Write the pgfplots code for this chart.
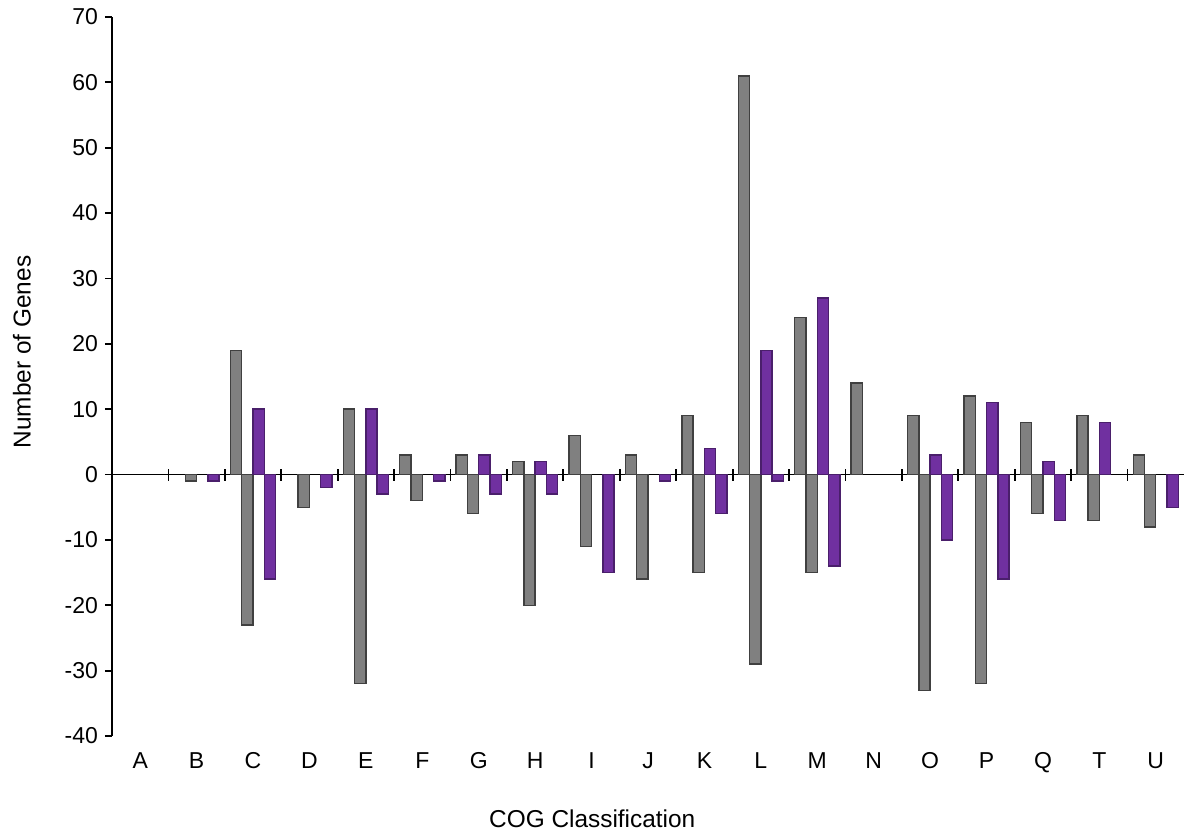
\documentclass[border=0pt]{standalone}
\usepackage{pgfplots}
\pgfplotsset{compat=1.18}
\usepackage{fontspec}
\setmainfont{Liberation Sans}
\definecolor{barGray}{HTML}{808080}
\definecolor{barGrayEdge}{HTML}{404040}
\definecolor{barPurple}{HTML}{7030A0}
\definecolor{barPurpleEdge}{HTML}{4A1F6B}
\begin{document}
\begin{tikzpicture}
\begin{axis}[
  name=main,
  scale only axis,
  width=536pt, height=359.5pt,
  xmin=-0.5, xmax=18.5,
  ymin=-40, ymax=70,
  axis y line*=left,
  axis x line*=middle,
  axis line style={-, black, line width=0.9pt},
  hide obscured x ticks=false,
  hide obscured y ticks=false,
  xtick=\empty,
  extra x ticks={0.5,1.5,...,17.5},
  extra x tick labels={},
  extra x tick style={xtick align=center, major tick length=6pt},
  major tick length=3.5pt,
  ytick={-40,-30,...,70},
  yticklabels={-40,-30,-20,-10,0,10,20,30,40,50,60,70},
  ytick align=outside,
  ytick pos=left,
  tick style={black, line width=0.9pt},
  tick label style={font=\fontsize{11.5}{13}\selectfont},
  ylabel={Number of Genes},
  ylabel style={font=\fontsize{12.2}{14}\selectfont, at={(axis description cs:-0.084,0.534)}, anchor=center, rotate=0},
  ybar, bar width=0.2,
  clip=false,
]
% gray positive
\addplot[fill=barGray, draw=barGrayEdge, line width=0.7pt, bar shift=-0.3] coordinates {
 (2,19) (4,10) (5,3) (6,3) (7,2) (8,6) (9,3) (10,9) (11,61) (12,24) (13,14) (14,9) (15,12) (16,8) (17,9) (18,3)};
% gray negative
\addplot[fill=barGray, draw=barGrayEdge, line width=0.7pt, bar shift=-0.1] coordinates {
 (1,-1) (2,-23) (3,-5) (4,-32) (5,-4) (6,-6) (7,-20) (8,-11) (9,-16) (10,-15) (11,-29) (12,-15) (14,-33) (15,-32) (16,-6) (17,-7) (18,-8)};
% purple positive
\addplot[fill=barPurple, draw=barPurpleEdge, line width=0.7pt, bar shift=0.1] coordinates {
 (2,10) (4,10) (6,3) (7,2) (10,4) (11,19) (12,27) (14,3) (15,11) (16,2) (17,8)};
% purple negative
\addplot[fill=barPurple, draw=barPurpleEdge, line width=0.7pt, bar shift=0.3] coordinates {
 (1,-1) (2,-16) (3,-2) (4,-3) (5,-1) (6,-3) (7,-3) (8,-15) (9,-1) (10,-6) (11,-1) (12,-14) (14,-10) (15,-16) (16,-7) (18,-5)};
\end{axis}
\begin{axis}[
  scale only axis,
  width=536pt, height=359.5pt,
  xmin=-0.5, xmax=18.5,
  ymin=-40, ymax=70,
  axis x line*=bottom,
  axis y line=none,
  axis line style={draw=none},
  xtick={0,...,18},
  xticklabels={A,B,C,D,E,F,G,H,I,J,K,L,M,N,O,P,Q,T,U},
  major tick length=0pt,
  tick style={draw=none},
  xticklabel style={font=\fontsize{11.5}{13}\selectfont, anchor=base, yshift=-16.5pt},
  xlabel={COG Classification},
  xlabel style={font=\fontsize{12.2}{14}\selectfont, at={(axis description cs:0.448,0)}, anchor=base, yshift=-46pt},
  ytick=\empty,
]
\addplot[draw=none] coordinates {(0,0)};
\end{axis}
\pgfresetboundingbox
\path[use as bounding box] ([xshift=-56pt,yshift=-48pt]main.south west) rectangle ([yshift=8.5pt]main.north east);
\end{tikzpicture}
\end{document}
